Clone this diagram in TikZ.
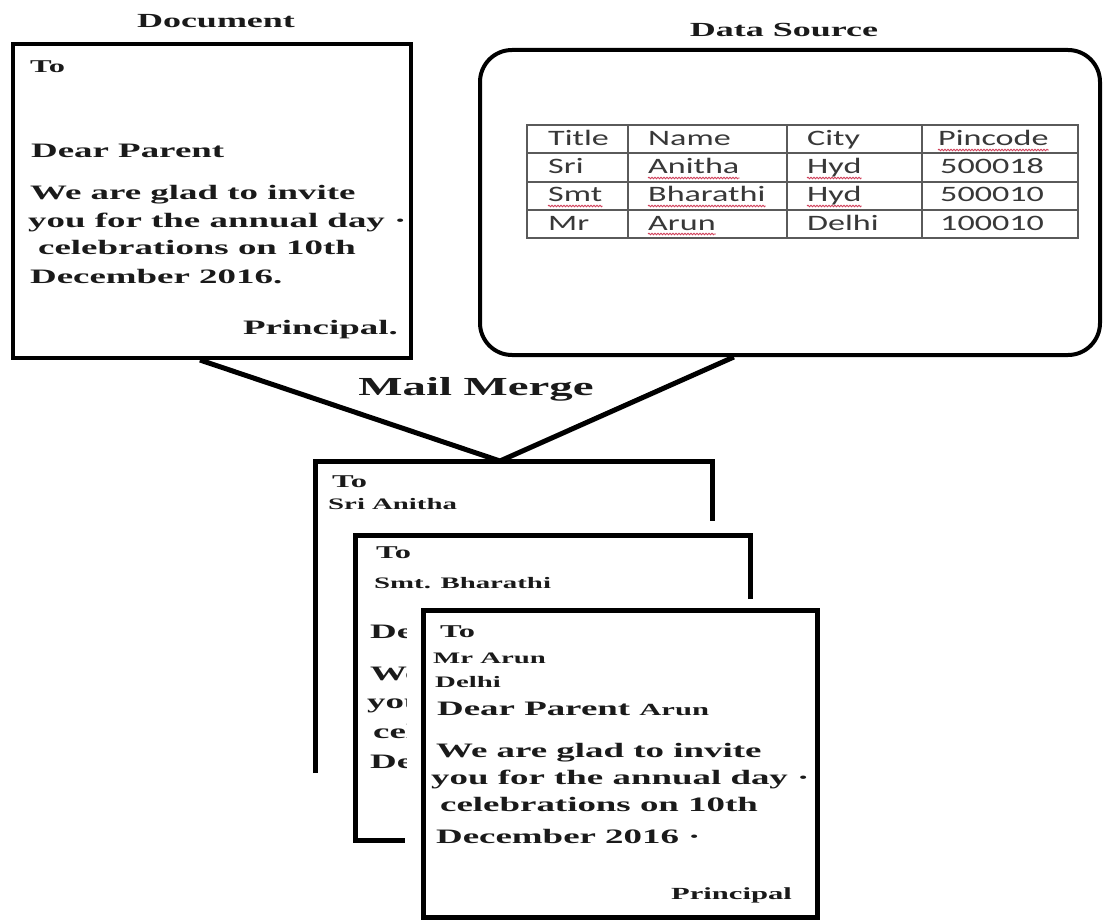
\documentclass[tikz,border=0pt]{standalone}
\usepackage{fontspec}
\usetikzlibrary{calc,decorations.pathmorphing}
% wide bold serif for the letters, wide sans for the data table
\newfontfamily\letterfont{Liberation Serif}[FakeStretch=1.8]
\newfontfamily\gridfont{Carlito}[FakeStretch=1.55]
\definecolor{ink}{HTML}{1A1A1A}
\definecolor{gridink}{HTML}{383838}
\definecolor{gridline}{HTML}{5A5A5A}
\definecolor{spellred}{HTML}{D0405A}

\tikzset{
  frame/.style={draw=black, line width=4pt, inner sep=0pt},
  sheet/.style={draw=black, line width=5pt},
  link/.style={draw=black, line width=5pt},
  caption/.style={inner sep=0pt, anchor=base, text=ink,
    font=\letterfont\bfseries\fontsize{20}{24}\selectfont},
  body/.style={inner sep=0pt, anchor=base west, text=ink,
    font=\letterfont\bfseries\fontsize{20.5}{24}\selectfont},
  salute/.style={body, font=\letterfont\bfseries\fontsize{18}{22}\selectfont},
  addr/.style={body, font=\letterfont\bfseries\fontsize{16}{20}\selectfont},
  sign/.style={body, anchor=base east},
  cell/.style={inner sep=0pt, anchor=base west, text=gridink,
    font=\gridfont\fontsize{22}{26}\selectfont},
  spell/.style={draw=spellred, line width=0.9pt,
    decorate, decoration={snake, amplitude=0.8pt, segment length=3pt}},
}

\begin{document}
\begin{tikzpicture}[x=1pt,y=-1pt]
\useasboundingbox[fill=white] (0,0) rectangle (1105,920);

% ---- template letter ----
\node[caption] (doctitle) at (216,28) {Document};
\node[frame, minimum width=398pt, minimum height=314pt] (doc) at (212,201) {};
\node[salute] (docto) at (30,73) {To};
\node[body] (docdear) at (31,158) {Dear Parent};
\node[body] (docl1) at (30,200) {We are glad to invite};
\node[body] (docl2) at (28,227) {you for the annual day ·};
\node[body] (docl3) at (38,254) {celebrations on 10th};
\node[body] (docl4) at (30,283) {December 2016.};
\node[body, sign] (docsign) at (398,334) {Principal.};

% ---- data source ----
\node[caption] (srctitle) at (784,37) {Data Source};
\node[frame, rounded corners=32pt, minimum width=620pt, minimum height=305pt] (src) at (790,202.5) {};
\draw[gridline, line width=1.6pt]
  (527,125) rectangle (1078,238)
  (527,153) -- (1078,153)
  (527,182) -- (1078,182)
  (527,210) -- (1078,210)
  (628,125) -- (628,238)
  (787,125) -- (787,238)
  (922,125) -- (922,238);
\node[cell] (hTitle) at (548,146) {Title};
\node[cell] (hName) at (648,146) {Name};
\node[cell] (hCity) at (807,146) {City};
\node[cell] (hPin) at (938,146) {Pincode};
\node[cell] (aTitle) at (548,174) {Sri};
\node[cell] (aName) at (648,174) {Anitha};
\node[cell] (aCity) at (807,174) {Hyd};
\node[cell] (aPin) at (940,174) {500018};
\node[cell] (bTitle) at (548,202) {Smt};
\node[cell] (bName) at (648,202) {Bharathi};
\node[cell] (bCity) at (807,202) {Hyd};
\node[cell] (bPin) at (940,202) {500010};
\node[cell] (cTitle) at (548,230) {Mr};
\node[cell] (cName) at (648,230) {Arun};
\node[cell] (cCity) at (807,230) {Delhi};
\node[cell] (cPin) at (940,230) {100010};
\foreach \w in {hPin,aName,aCity,bTitle,bName,bCity,cName}
  \draw[spell] ([yshift=-4pt]\w.base west) -- ([yshift=-4pt]\w.base east);

% ---- merge ----
\node[caption, font=\letterfont\bfseries\fontsize{26}{30}\selectfont] (merge label) at (476,395) {Mail Merge};
\coordinate (merge) at (500,461);
\draw[link] ($(doc.south west)!0.47!(doc.south east)$) -- (merge)
            -- ($(src.south west)!0.41!(src.south east)$);

% ---- first merged letter ----
\draw[sheet] (315,773) -- (315,461) -- (712,461) -- (712,521);
\node[salute] (l1to) at (332,487) {To};
\node[addr] (l1name) at (328,509) {Sri Anitha};

% ---- second merged letter (body mostly hidden by the third) ----
\draw[sheet] (750,599) -- (750,535) -- (355,535) -- (355,840) -- (405,840);
\node[salute] (l2to) at (376,558) {To};
\node[addr] (l2name) at (374,588) {Smt. Bharathi};
\begin{scope}
  \clip (358,600) rectangle (406,800);
  \node[body] (l2dear) at (370,638) {Dea};
  \node[body] (l2l1) at (370,680) {We};
  \node[body] (l2l2) at (367,708) {you};
  \node[body] (l2l3) at (373,738) {cel};
  \node[body] (l2l4) at (370,768) {Dec};
\end{scope}

% ---- third merged letter ----
\fill[white] (407,610) rectangle (819,918);
\draw[sheet] (423,610) rectangle (817,917);
\node[salute] (l3to) at (440,637) {To};
\node[addr] (l3name) at (433,663) {Mr Arun};
\node[addr] (l3city) at (435,687) {Delhi};
\node[body] (l3dear) at (437,715) {Dear Parent \fontsize{17}{20}\selectfont Arun};
\node[body] (l3l1) at (436,757) {We are glad to invite};
\node[body] (l3l2) at (431,784) {you for the annual day ·};
\node[body] (l3l3) at (440,811) {celebrations on 10th};
\node[body] (l3l4) at (436,843) {December 2016 ·};
\node[body, sign, font=\letterfont\bfseries\fontsize{17}{20}\selectfont] (l3sign) at (792,899) {Principal};
\end{tikzpicture}
\end{document}
